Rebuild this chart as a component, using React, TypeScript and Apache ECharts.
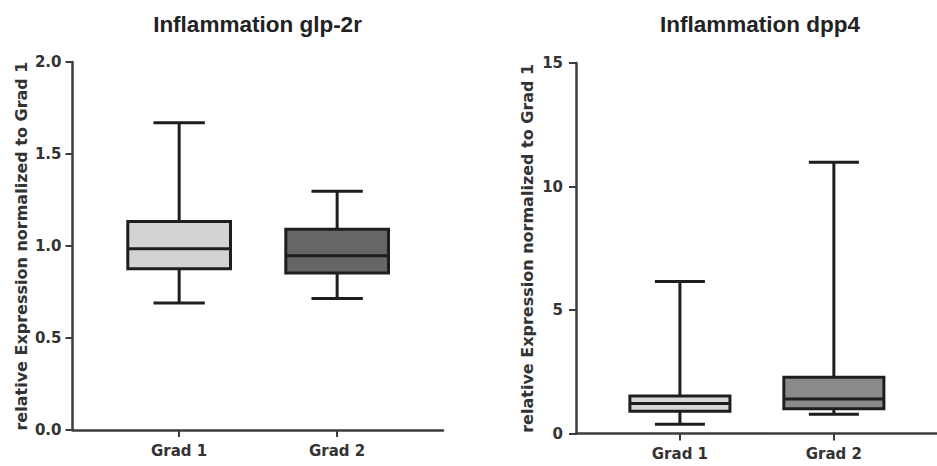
import React, { useEffect, useRef } from "react";
import * as echarts from "echarts";

const CATEGORIES = ["Grad 1", "Grad 2"];
const TITLES = ["Inflammation glp-2r", "Inflammation dpp4"];
const Y_NAME = "relative Expression normalized to Grad 1";

// [min, Q1, median, Q3, max]
const GLP2R_GRAD1 = [0.69, 0.876, 0.985, 1.133, 1.67];
const GLP2R_GRAD2 = [0.714, 0.853, 0.947, 1.091, 1.297];
const DPP4_GRAD1 = [0.37, 0.9, 1.21, 1.52, 6.15];
const DPP4_GRAD2 = [0.78, 1.0, 1.4, 2.28, 10.98];

const GLP2R_TICKS = [0, 0.5, 1.0, 1.5, 2.0];
const DPP4_TICKS = [0, 5, 10, 15];

const FILLS_LEFT = ["#d3d3d3", "#666666"];
const FILLS_RIGHT = ["#d6d6d6", "#8a8a8a"];

const FONT = "DejaVu Sans";
const TITLE_FONT = "Liberation Sans";
const INK = "#1e1e1e";
const AXIS_INK = "#3c3c3c";

function buildData(groups: number[][]) {
  return groups.map((g, i) => [i + 1, ...g]);
}

function makeRender(fills: string[]) {
  return (params: any, api: any) => {
    const x = api.value(0);
    const pMin = api.coord([x, api.value(1)]);
    const pQ1 = api.coord([x, api.value(2)]);
    const pMed = api.coord([x, api.value(3)]);
    const pQ3 = api.coord([x, api.value(4)]);
    const pMax = api.coord([x, api.value(5)]);
    const bw = api.size([0.65, 0])[0];
    const cw = bw / 2;
    const cx = pMin[0];
    const lineStyle = { stroke: INK, lineWidth: 3 };
    return {
      type: "group",
      children: [
        { type: "line", shape: { x1: cx, y1: pMax[1], x2: cx, y2: pQ3[1] }, style: lineStyle },
        { type: "line", shape: { x1: cx, y1: pQ1[1], x2: cx, y2: pMin[1] }, style: lineStyle },
        { type: "line", shape: { x1: cx - cw / 2, y1: pMax[1], x2: cx + cw / 2, y2: pMax[1] }, style: lineStyle },
        { type: "line", shape: { x1: cx - cw / 2, y1: pMin[1], x2: cx + cw / 2, y2: pMin[1] }, style: lineStyle },
        {
          type: "rect",
          shape: { x: cx - bw / 2, y: pQ3[1], width: bw, height: pQ1[1] - pQ3[1] },
          style: { fill: fills[params.dataIndex], stroke: INK, lineWidth: 3 },
        },
        { type: "line", shape: { x1: cx - bw / 2, y1: pMed[1], x2: cx + bw / 2, y2: pMed[1] }, style: lineStyle },
      ],
    };
  };
}

function xAxisFor(gridIndex: number) {
  return {
    type: "value",
    gridIndex,
    min: 0.325,
    max: 2.67,
    splitLine: { show: false },
    axisLine: { show: true, onZero: false, lineStyle: { color: AXIS_INK, width: 2.5 } },
    axisTick: { show: true, customValues: [1, 2], length: 7, lineStyle: { color: AXIS_INK, width: 2 } },
    axisLabel: {
      customValues: [1, 2],
      formatter: (v: number) => CATEGORIES[Math.round(v) - 1] ?? "",
      fontFamily: FONT,
      fontWeight: "bold",
      fontSize: 15,
      color: "#333",
      margin: 13,
    },
  };
}

function yAxisFor(gridIndex: number, ticks: number[], digits: number, nameGap: number, labelMargin: number) {
  return {
    type: "value",
    gridIndex,
    min: ticks[0],
    max: ticks[ticks.length - 1],
    interval: ticks[1] - ticks[0],
    name: Y_NAME,
    nameLocation: "middle",
    nameGap,
    nameTextStyle: { fontFamily: FONT, fontWeight: "bold", fontSize: 16, color: "#333" },
    splitLine: { show: false },
    axisLine: { show: true, lineStyle: { color: AXIS_INK, width: 2.5 } },
    axisTick: { show: true, length: 7, lineStyle: { color: AXIS_INK, width: 2 } },
    axisLabel: {
      formatter: (v: number) => v.toFixed(digits),
      fontFamily: FONT,
      fontWeight: "bold",
      fontSize: 15,
      color: "#333",
      margin: labelMargin,
    },
  };
}

export default function App() {
  const ref = useRef<HTMLDivElement>(null);
  useEffect(() => {
    if (!ref.current) return;
    const chart = echarts.init(ref.current, null, { renderer: "svg" });
    const titleStyle = { fontFamily: TITLE_FONT, fontWeight: "bold", fontSize: 22.5, color: "#222" };
    chart.setOption({
      animation: false,
      backgroundColor: "#ffffff",
      title: [
        { text: TITLES[0], left: 252.5, top: 8, textAlign: "center", textStyle: titleStyle },
        { text: TITLES[1], left: 755, top: 8, textAlign: "center", textStyle: titleStyle },
      ],
      grid: [
        { left: 72.5, top: 62, width: 370.5, height: 368 },
        { left: 576, top: 63, width: 371.5, height: 370.5 },
      ],
      xAxis: [xAxisFor(0), xAxisFor(1)],
      yAxis: [yAxisFor(0, GLP2R_TICKS, 1, 43, 11), yAxisFor(1, DPP4_TICKS, 0, 41, 13)],
      series: [
        {
          type: "custom",
          xAxisIndex: 0,
          yAxisIndex: 0,
          renderItem: makeRender(FILLS_LEFT),
          encode: { x: 0, y: [1, 2, 3, 4, 5] },
          data: buildData([GLP2R_GRAD1, GLP2R_GRAD2]),
        },
        {
          type: "custom",
          xAxisIndex: 1,
          yAxisIndex: 1,
          renderItem: makeRender(FILLS_RIGHT),
          encode: { x: 0, y: [1, 2, 3, 4, 5] },
          data: buildData([DPP4_GRAD1, DPP4_GRAD2]),
        },
      ],
    });
    return () => chart.dispose();
  }, []);
  return (
    <div
      ref={ref}
      style={{ position: "fixed", left: 0, top: 0, width: 937, height: 466, background: "#fff" }}
    />
  );
}
